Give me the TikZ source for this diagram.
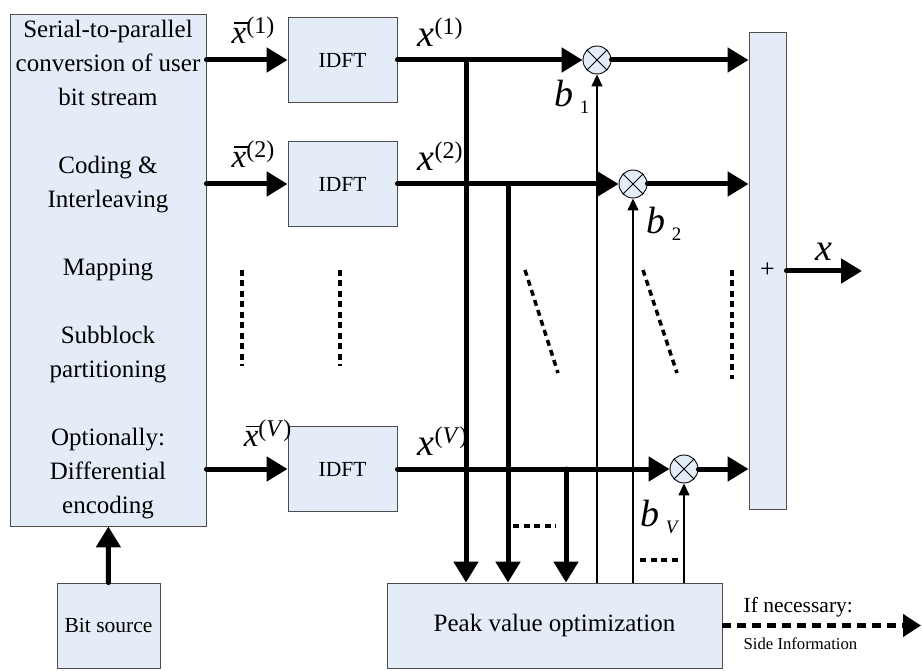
\documentclass[tikz,border=0pt]{standalone}
\usepackage{fontspec}
\setmainfont{Liberation Serif}
\usetikzlibrary{arrows.meta,positioning}

\definecolor{boxblue}{RGB}{228,236,247}
\newcommand{\barx}[1]{\makebox[0pt][l]{\hspace{0.06em}\rule[0.6em]{0.44em}{1.5pt}}\textit{x}\raisebox{10pt}{\fontsize{24pt}{24pt}\selectfont(#1)}}
\newcommand{\supx}[1]{\textit{x}\raisebox{12pt}{\fontsize{24pt}{24pt}\selectfont(#1)}}
\newcommand{\subb}[1]{\textit{b}\,\raisebox{-7pt}{\fontsize{19pt}{19pt}\selectfont #1}}
\tikzset{
  blk/.style={draw=black!70, fill=boxblue, line width=0.9pt, inner sep=0pt},
  mult/.style={circle, draw, fill=boxblue, line width=0.9pt, minimum size=28pt, inner sep=0pt},
  bigarrow/.style={line width=5pt, line cap=round, -{Triangle[length=21pt,width=24pt]}},
  thinarrow/.style={line width=1.5pt, -{Triangle[length=12pt,width=11pt]}},
  dots/.style={line width=3.5pt, dash pattern=on 6pt off 4.5pt},
  lbl/.style={font=\fontsize{38pt}{44pt}\selectfont, inner sep=0pt},
  blbl/.style={font=\fontsize{21.5pt}{26pt}\selectfont},
}

\begin{document}
\begin{tikzpicture}[x=1pt,y=-1pt]
  \useasboundingbox (0,0) rectangle (922,671);

  % blocks
  \node[blk, minimum width=196pt, minimum height=512pt, align=center,
        font=\fontsize{25pt}{34pt}\selectfont] (src) at (108,270)
    {Serial-to-parallel\\conversion of user\\bit stream\\[34pt]
     Coding \&\\Interleaving\\[34pt]Mapping\\[34pt]
     Subblock\\partitioning\\[34pt]Optionally:\\Differential\\encoding};
  \node[blk, blbl, minimum width=103pt, minimum height=85pt] (bits) at (108.5,625.5) {Bit source};

  \node[blk, blbl, minimum width=109pt, minimum height=85pt] (idft1) at (342.5,60) {IDFT};
  \node[blk, blbl, minimum width=109pt, minimum height=85pt] (idft2) at (342.5,184) {IDFT};
  \node[blk, blbl, minimum width=109pt, minimum height=85pt] (idftV) at (342.5,469) {IDFT};

  \node[blk, minimum width=335pt, minimum height=85pt,
        font=\fontsize{25pt}{30pt}\selectfont] (peak) at (554.5,625.5) {Peak value optimization};
  \node[blk, minimum width=37pt, minimum height=477pt,
        font=\fontsize{26pt}{30pt}\selectfont] (sum) at (767.5,270.5) {+};

  % multipliers
  \node[mult] (m1) at (597,60) {};
  \node[mult] (m2) at (633,184) {};
  \node[mult] (mV) at (684,469) {};
  \foreach \m in {m1,m2,mV}{
    \draw[line width=0.9pt] (\m.north west) -- (\m.south east);
    \draw[line width=0.9pt] (\m.north east) -- (\m.south west);
  }

  % branch points
  \coordinate (j1) at (466,60);
  \coordinate (j2) at (508,184);
  \coordinate (jV) at (566,469);
  \coordinate (out) at (862,271);
  \coordinate (side) at (921,625.5);

  % thin lines up to the multipliers
  \draw[thinarrow] (peak.north -| m1) -- (m1);
  \draw[thinarrow] (peak.north -| m2) -- (m2);
  \draw[thinarrow] (peak.north -| mV) -- (mV);

  % inputs
  \draw[bigarrow] (bits) -- (src);
  \draw[bigarrow] (src.east |- idft1) -- (idft1);
  \draw[bigarrow] (src.east |- idft2) -- (idft2);
  \draw[bigarrow] (src.east |- idftV) -- (idftV);
  \node[lbl, font=\fontsize{33pt}{40pt}\selectfont, above left=16pt and 13pt of idft1.west] (xb1) {\barx{1}};
  \node[lbl, font=\fontsize{33pt}{40pt}\selectfont, above left=16pt and 13pt of idft2.west] (xb2) {\barx{2}};
  \node[lbl, font=\fontsize{33pt}{40pt}\selectfont, above left=22pt and -4pt of idftV.west] (xbV) {\barx{\textit{V}}};

  % rows to the multipliers
  \draw[bigarrow] (idft1) -- (m1);
  \draw[bigarrow] (idft2) -- (m2);
  \draw[bigarrow] (idftV) -- (mV);
  \node[lbl, above right=13pt and 20pt of idft1.east] (x1) {\supx{1}};
  \node[lbl, above right=13pt and 20pt of idft2.east] (x2) {\supx{2}};
  \node[lbl, above right=13pt and 20pt of idftV.east] (xV) {\supx{\textit{V}}};

  % taps down to the optimizer
  \draw[bigarrow] (j1) -- (j1 |- peak.north);
  \draw[bigarrow] (j2) -- (j2 |- peak.north);
  \draw[bigarrow] (jV) -- (jV |- peak.north);

  % outputs
  \draw[bigarrow] (m1) -- (sum.west |- m1);
  \draw[bigarrow] (m2) -- (sum.west |- m2);
  \draw[bigarrow] (mV) -- (sum.west |- mV);
  \draw[bigarrow] (sum.east |- out) -- node[lbl, above=8pt] (xo) {\textit{x}} (out);
  \draw[line width=5pt, dash pattern=on 9pt off 6pt, -{Triangle[length=18pt,width=22pt]}]
    (peak.east) -- (side);
  \node[blbl, inner sep=0pt, above right=8pt and 21pt of peak.east] (nec) {If necessary:};
  \node[inner sep=0pt, font=\fontsize{16.7pt}{20pt}\selectfont,
        below right=12pt and 21pt of peak.east] (si) {Side Information};

  % weights
  \node[lbl] (b1) at (572,97) {\subb{1}};
  \node[lbl] (b2) at (664,224) {\subb{2}};
  \node[lbl] (bV) at (660,517) {\subb{\textit{V}}};

  % ellipsis marks
  \draw[dots] (242,270) -- (242,366);
  \draw[dots] (340,270) -- (340,366);
  \draw[dots] (525,270) -- (558,373);
  \draw[dots] (643,270) -- (677,373);
  \draw[dots] (732,270) -- (732,379);
  \draw[dots] (513,526) -- (556,526);
  \draw[dots] (640,560) -- (681,560);
\end{tikzpicture}
\end{document}
